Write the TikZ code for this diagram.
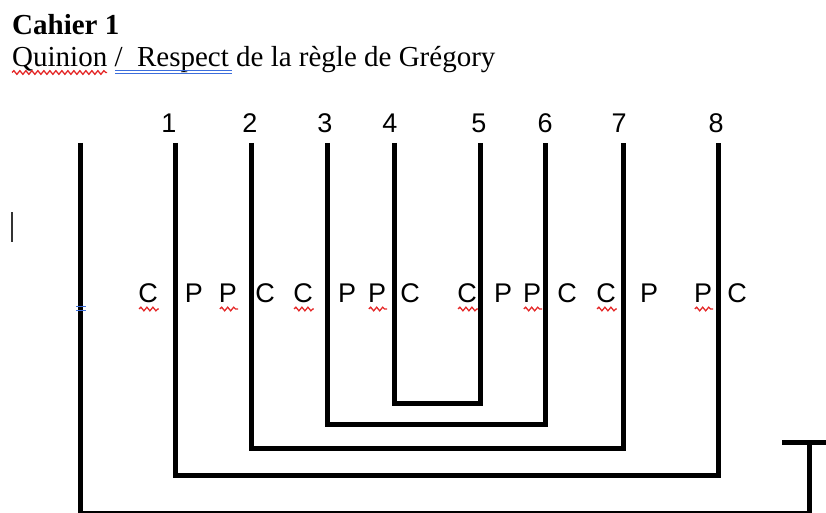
\documentclass[tikz,border=0pt]{standalone}
\usepackage{fontspec}
\setmainfont{Liberation Serif}
\setsansfont{Liberation Sans}
\usepackage{xcolor}
\usetikzlibrary{positioning,calc,decorations.pathmorphing}
\definecolor{wordred}{RGB}{228,40,40}
\definecolor{wordblue}{RGB}{60,110,220}

\begin{document}
\begin{tikzpicture}[x=1pt, y=-1pt,
bracket/.style={draw, line width=5pt},
num/.style={font=\sffamily\fontsize{27}{30}\selectfont, anchor=base, inner sep=0pt},
letter/.style={font=\sffamily\fontsize{27}{30}\selectfont, anchor=base, inner sep=0pt},
title/.style={font=\fontsize{29}{33}\selectfont, anchor=base west, inner sep=0pt},
squiggle/.style={draw=wordred, line width=1.3pt, decorate, decoration={snake, amplitude=1.8pt, segment length=6pt}},
dblline/.style={draw=wordblue, line width=1pt}
]
\useasboundingbox (0,0) rectangle (826,513);

% header
\node[title, font=\bfseries\fontsize{29}{33}\selectfont] (cahier) at (12,35) {Cahier 1};
\node[title] (regle) at (12,67) {Quinion /\ \ Respect de la règle de Grégory};
\draw[squiggle] ($(regle.base west)+(0,5.5)$) -- ++(95,0);
\draw[dblline] ($(regle.base west)+(103,4)$) -- ++(117,0);
\draw[dblline] ($(regle.base west)+(103,7)$) -- ++(117,0);
\coordinate (caret) at (12,212);
\draw[line width=1.5pt, black!80] (caret) -- ++(0,30);

% numbers and line tops
\node[num] (n1) at (169,133) {1};
\node[num] (n2) at (250,133) {2};
\node[num] (n3) at (325,133) {3};
\node[num] (n4) at (390,133) {4};
\node[num] (n5) at (479,133) {5};
\node[num] (n6) at (545,133) {6};
\node[num] (n7) at (619,133) {7};
\node[num] (n8) at (716,133) {8};
\coordinate (t0) at (80,143);
\coordinate (t1) at (175.5,143);
\coordinate (t2) at (251,143);
\coordinate (t3) at (327.5,143);
\coordinate (t4) at (394,143);
\coordinate (t5) at (480,143);
\coordinate (t6) at (545,143);
\coordinate (t7) at (623.5,143);
\coordinate (t8) at (718.5,143);
\coordinate (tee) at (809.5,442.5);
\coordinate (teeL) at (782,442.5);
\coordinate (teeR) at (826,442.5);

% brackets
\draw[bracket] (t0) -- ++(0,370) -| (tee);
\draw[bracket] (teeL) -- (teeR);
\draw[bracket] (t1) -- ++(0,332) -| (t8);
\draw[bracket] (t2) -- ++(0,305) -| (t7);
\draw[bracket] (t3) -- ++(0,281) -| (t6);
\draw[bracket] (t4) -- ++(0,260) -| (t5);

% letters
\foreach \ch/\x [count=\i] in {C/148, P/194, P/228, C/265, C/303, P/347, P/377, C/410,
  C/467, P/503, P/532, C/567, C/606, P/649, P/703, C/737}
  \node[letter] (l\i) at (\x,302) {\ch};
\foreach \i in {1,3,...,15}
  \draw[squiggle] ($(l\i.base west)+(1,7)$) -- ($(l\i.base east)+(1,7)$);
\draw[dblline] (76,306) -- (86,306);
\draw[dblline] (76,310) -- (86,310);
\end{tikzpicture}
\end{document}
